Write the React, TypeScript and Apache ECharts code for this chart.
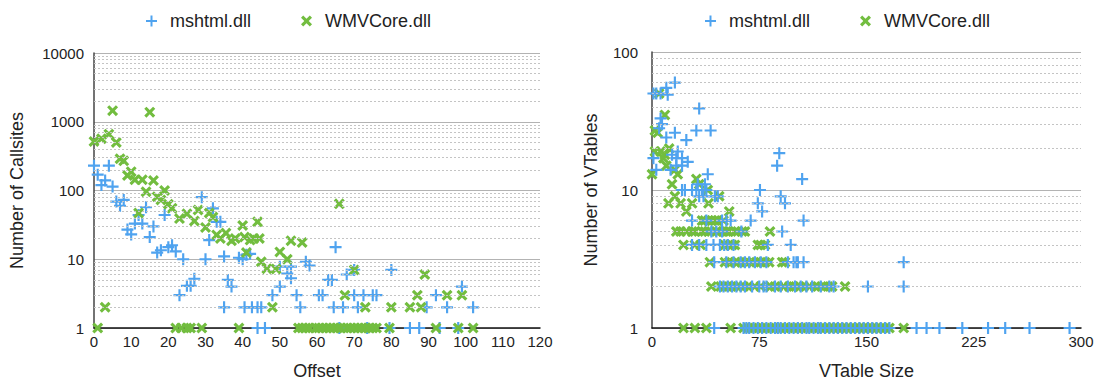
import React, { useEffect, useRef } from "react";
import * as echarts from "echarts";

// ---------- data ----------
// Left chart: [Offset, Number of Callsites]
const leftMshtml: [number, number][] = [
  [0, 230], [1, 170], [2, 120], [3, 140], [4, 230], [5, 114], [6, 69], [7, 60], [8, 73], [9, 27],
  [10, 23], [11, 33], [12, 44], [13, 33], [14, 57], [15, 21], [16, 30], [17, 12.5], [18, 13.5], [19, 44],
  [20, 15], [21, 16], [22, 13], [23, 3], [24, 10], [25, 4.1], [26, 4.1], [27, 5.2], [29, 80], [30, 10],
  [31, 19], [32, 55], [33, 35], [34, 35], [35, 11], [35, 2], [36, 5], [37, 4], [39, 10.5], [40, 10],
  [40.5, 2], [41, 11.6], [42, 12], [42.5, 2], [44, 2], [45, 2], [44, 1], [46, 1], [48, 3], [50, 4],
  [50, 7.8], [52, 6.2], [53, 5.3], [53, 7.8], [54.5, 3], [55.5, 2], [57, 9.2], [58, 8.1], [60.5, 3], [61.5, 3],
  [63, 5], [64, 5], [64.5, 2], [65, 15], [66, 1], [67, 2], [68, 6], [70, 7], [70, 3], [71, 2],
  [72.5, 3], [73.5, 1], [75, 3], [76, 3], [79.5, 1], [80, 7], [85, 1], [87.5, 1], [89.5, 2], [92, 3],
  [93, 1], [95, 2], [98, 1], [99, 4], [102, 2],
];
const leftWmv: [number, number][] = [
  [0, 515], [1, 1], [2, 565], [3, 2], [4, 660], [5, 1450], [6, 500], [7, 290], [8, 270], [9, 165],
  [10, 188], [11, 143], [12, 47], [13, 143], [14, 96], [15, 1380], [16, 140], [17, 81], [18, 73], [19, 100],
  [20, 63], [21, 55], [22, 1], [23, 39], [23.5, 1], [25, 46], [25, 1], [26, 1], [27, 36], [28, 52],
  [29, 1], [30, 29], [31, 47], [32, 41], [33, 22.6], [34, 20], [35.5, 24], [37, 18.6], [38, 20], [39, 1],
  [40, 31], [40.5, 21], [41, 12.5], [42, 19], [43, 20], [44, 35], [44.5, 20], [45, 9.2], [46.5, 7.3], [48, 2],
  [49, 7.2], [50, 12.8], [52, 10], [53, 18.6], [56, 17.5], [66, 64], [67.5, 3], [70, 7], [73, 2], [80, 2],
  [85, 2], [87, 3], [88, 2], [89, 6], [95, 3], [99, 3],
  [55, 1], [56, 1], [57, 1], [58, 1], [59.5, 1], [60.5, 1], [61.5, 1], [62.5, 1], [63.5, 1], [64.5, 1],
  [65.5, 1], [66.5, 1], [68, 1], [69, 1], [70, 1], [71, 1], [72, 1], [73, 1], [74, 1], [75, 1],
  [76, 1], [79.5, 1], [92, 1], [98, 1], [102, 1],
];

// Right chart: VTable Size values per count row, plus scattered [size, count] points
const rightMshtmlOnes = [43.5, 64, 66, 68, 71, 74, 77, 80, 83, 86, 88, 90, 93, 96, 99, 102, 105, 108, 110, 113, 116, 118, 121, 124, 127, 130, 133, 136, 139, 142, 145, 148, 151, 154, 157, 160, 163, 166, 185, 192, 201, 217, 235, 247, 264, 292];
const rightMshtmlTwos = [47.5, 50, 53, 56, 59, 62, 65, 70, 75, 78, 80, 86, 90, 95, 100, 104, 108, 112, 118, 124, 127, 151, 176];
const rightMshtmlThrees = [43.5, 52, 57, 62, 65, 68, 72, 76, 80, 95, 99, 101, 102, 106, 176];
const rightMshtmlFours = [28, 33, 38, 43, 47.5, 50.5, 53, 57, 81, 97];
const rightMshtmlFives = [41.5, 45, 49, 62.5, 91];
const rightMshtmlSixes = [28, 38, 49, 52, 55, 69, 106];
const rightMshtmlOther: [number, number][] = [
  [77, 7], [74, 8], [93, 8], [33, 9], [36, 9], [44, 9], [46, 9], [90, 9], [21, 10], [23, 10],
  [28, 10], [31, 10], [35, 10], [38, 10], [75.5, 10], [32, 11], [37, 11], [105, 12], [39, 13], [3, 14],
  [13, 14], [17, 15], [21, 15], [87.5, 15], [25, 16], [1, 17], [17, 17], [21, 17], [14, 18], [89, 18.5],
  [18, 19], [24, 23], [10, 24], [16, 26], [31, 27], [41, 27], [5, 28], [7, 30], [6, 33], [33, 39],
  [11, 49], [1, 50], [3, 50], [6, 50], [10, 55], [16, 60],
];
const rightWmvOnes = [22, 30, 38, 55, 64, 67, 70, 73, 76, 79, 82, 85, 88, 91, 94, 97, 100, 103, 106, 109, 112, 115, 118, 121, 124, 127, 130, 133, 136, 139, 142, 145, 148, 151, 154, 157, 160, 163, 166, 176];
const rightWmvTwos = [41.5, 48, 51, 54, 57, 60, 64, 67, 72, 76, 83, 86, 88, 92, 96, 99, 103, 106, 110, 114, 116, 120, 123, 126, 135];
const rightWmvThrees = [40.5, 51, 54, 58, 60, 63, 66, 70, 73, 76, 79, 82, 91, 93];
const rightWmvFours = [22, 30, 34, 51, 54.5, 56, 58, 74, 76, 79];
const rightWmvFives = [17, 20, 24, 28, 30, 35, 37, 39.5, 45, 47, 50, 52, 53.5, 58, 60, 63, 65, 82.5];
const rightWmvSixes = [35, 37, 39.5, 42, 44, 46, 50];
const rightWmvOther: [number, number][] = [
  [24, 7], [54, 7], [11.5, 8], [20, 8], [28, 8], [39.5, 8], [16, 9], [47, 9], [39, 10], [14, 11],
  [33, 11], [31, 12], [0, 13], [18, 13], [16, 14], [10, 15], [8, 17], [9, 18], [2, 19], [6, 19],
  [12, 20], [4, 26], [2, 27], [9, 35], [5, 50],
];

const seriesNames = ["mshtml.dll", "WMVCore.dll"];
const minorSteps = [2, 3, 4, 5, 6, 7, 8, 9];
const leftDecades = [1, 10, 100, 1000];
const rightDecades = [1, 10];

// ---------- helpers ----------
const rows = (list: [number[], number][]): [number, number][] =>
  list.flatMap(([xs, y]) => xs.map((x) => [x, y] as [number, number]));

const rightMshtml: [number, number][] = [
  ...rows([
    [rightMshtmlOnes, 1], [rightMshtmlTwos, 2], [rightMshtmlThrees, 3],
    [rightMshtmlFours, 4], [rightMshtmlFives, 5], [rightMshtmlSixes, 6],
  ]),
  ...rightMshtmlOther,
];
const rightWmv: [number, number][] = [
  ...rows([
    [rightWmvOnes, 1], [rightWmvTwos, 2], [rightWmvThrees, 3],
    [rightWmvFours, 4], [rightWmvFives, 5], [rightWmvSixes, 6],
  ]),
  ...rightWmvOther,
];

const minorValues = (decades: number[]) => decades.flatMap((d) => minorSteps.map((m) => m * d));

const BLUE = "#4fa3ef";
const GREEN = "#72bd3f";
const FONT = "'Liberation Sans', Arial, Helvetica, sans-serif";
const PLUS = "path://M4.1,0L5.9,0L5.9,4.1L10,4.1L10,5.9L5.9,5.9L5.9,10L4.1,10L4.1,5.9L0,5.9L0,4.1L4.1,4.1Z";
const CROSS = "path://M0,2L2,0L5,3L8,0L10,2L7,5L10,8L8,10L5,7L2,10L0,8L3,5Z";

const minorLineSeries = (idx: number, decades: number[]) => ({
  type: "line",
  name: "",
  xAxisIndex: idx,
  yAxisIndex: idx,
  data: [],
  silent: true,
  z: 1,
  markLine: {
    silent: true,
    symbol: "none",
    label: { show: false },
    lineStyle: { color: "#c4c4c4", width: 1, type: [2, 2] },
    data: minorValues(decades).map((v) => ({ yAxis: v })),
  },
});

export default function App() {
  const ref = useRef<HTMLDivElement>(null);
  useEffect(() => {
    if (!ref.current) return;
    const chart = echarts.init(ref.current, null, { renderer: "svg" });
    const axisLabel = { fontFamily: FONT, fontSize: 15, color: "#222" };
    const nameStyle = { fontFamily: FONT, fontSize: 18, color: "#222" };
    const xNameStyle = { fontFamily: FONT, fontSize: 18, color: "#222", lineHeight: 18 };
    const plain = (v: number) => String(v);
    const legendBase = {
      top: 7,
      itemWidth: 11,
      itemHeight: 11,
      itemGap: 50,
      textStyle: { fontFamily: FONT, fontSize: 18, color: "#222", padding: [0, 0, 0, 8] },
      data: [
        { name: seriesNames[0], icon: PLUS },
        { name: seriesNames[1], icon: CROSS },
      ],
    };
    chart.setOption({
      animation: false,
      backgroundColor: "#fff",
      legend: [
        { ...legendBase, left: 141 },
        { ...legendBase, left: 700 },
      ],
      grid: [
        { left: 94, top: 53, width: 446, height: 275, outerBoundsMode: "none", containLabel: false },
        { left: 652, top: 52, width: 429, height: 276, outerBoundsMode: "none", containLabel: false },
      ],
      xAxis: [
        {
          gridIndex: 0, type: "value", min: 0, max: 120, interval: 10,
          name: "Offset", nameLocation: "middle", nameGap: 34, nameTextStyle: xNameStyle,
          axisLine: { show: true, lineStyle: { color: "#111", width: 1.5 } },
          axisTick: { show: false }, splitLine: { show: false },
          axisLabel: { ...axisLabel, margin: 6 },
        },
        {
          gridIndex: 1, type: "value", min: 0, max: 300, interval: 75,
          name: "VTable Size", nameLocation: "middle", nameGap: 34, nameTextStyle: xNameStyle,
          axisLine: { show: true, lineStyle: { color: "#111", width: 1.5 } },
          axisTick: { show: false }, splitLine: { show: false },
          axisLabel: { ...axisLabel, margin: 6 },
        },
      ],
      yAxis: [
        {
          gridIndex: 0, type: "log", logBase: 10, min: 1, max: 10000,
          name: "Number of Callsites", nameLocation: "middle", nameGap: 68, nameTextStyle: nameStyle,
          axisLine: { show: true, lineStyle: { color: "#444", width: 1.5 } },
          axisTick: { show: false },
          splitLine: { show: true, lineStyle: { color: "#b3b3b3", width: 1 } },
          minorTick: { show: false }, minorSplitLine: { show: false },
          axisLabel: { ...axisLabel, margin: 10, formatter: plain },
        },
        {
          gridIndex: 1, type: "log", logBase: 10, min: 1, max: 100,
          name: "Number of VTables", nameLocation: "middle", nameGap: 52, nameTextStyle: nameStyle,
          axisLine: { show: true, lineStyle: { color: "#444", width: 1.5 } },
          axisTick: { show: false },
          splitLine: { show: true, lineStyle: { color: "#b3b3b3", width: 1 } },
          minorTick: { show: false }, minorSplitLine: { show: false },
          axisLabel: { ...axisLabel, margin: 14, formatter: plain },
        },
      ],
      series: [
        minorLineSeries(0, leftDecades),
        minorLineSeries(1, rightDecades),
        {
          type: "scatter", name: seriesNames[0], xAxisIndex: 0, yAxisIndex: 0,
          data: leftMshtml, symbol: PLUS, symbolSize: 12, z: 3,
          itemStyle: { color: BLUE, opacity: 1 },
        },
        {
          type: "scatter", name: seriesNames[1], xAxisIndex: 0, yAxisIndex: 0,
          data: leftWmv, symbol: CROSS, symbolSize: 11, z: 4,
          itemStyle: { color: GREEN, opacity: 1 },
        },
        {
          type: "scatter", name: seriesNames[1], xAxisIndex: 1, yAxisIndex: 1,
          data: rightWmv, symbol: CROSS, symbolSize: 11, z: 3,
          itemStyle: { color: GREEN, opacity: 1 },
        },
        {
          type: "scatter", name: seriesNames[0], xAxisIndex: 1, yAxisIndex: 1,
          data: rightMshtml, symbol: PLUS, symbolSize: 12, z: 4,
          itemStyle: { color: BLUE, opacity: 1 },
        },
      ],
    });
    return () => chart.dispose();
  }, []);
  return (
    <div
      ref={ref}
      style={{ position: "absolute", left: 0, top: 0, width: 1094, height: 381 }}
    />
  );
}
